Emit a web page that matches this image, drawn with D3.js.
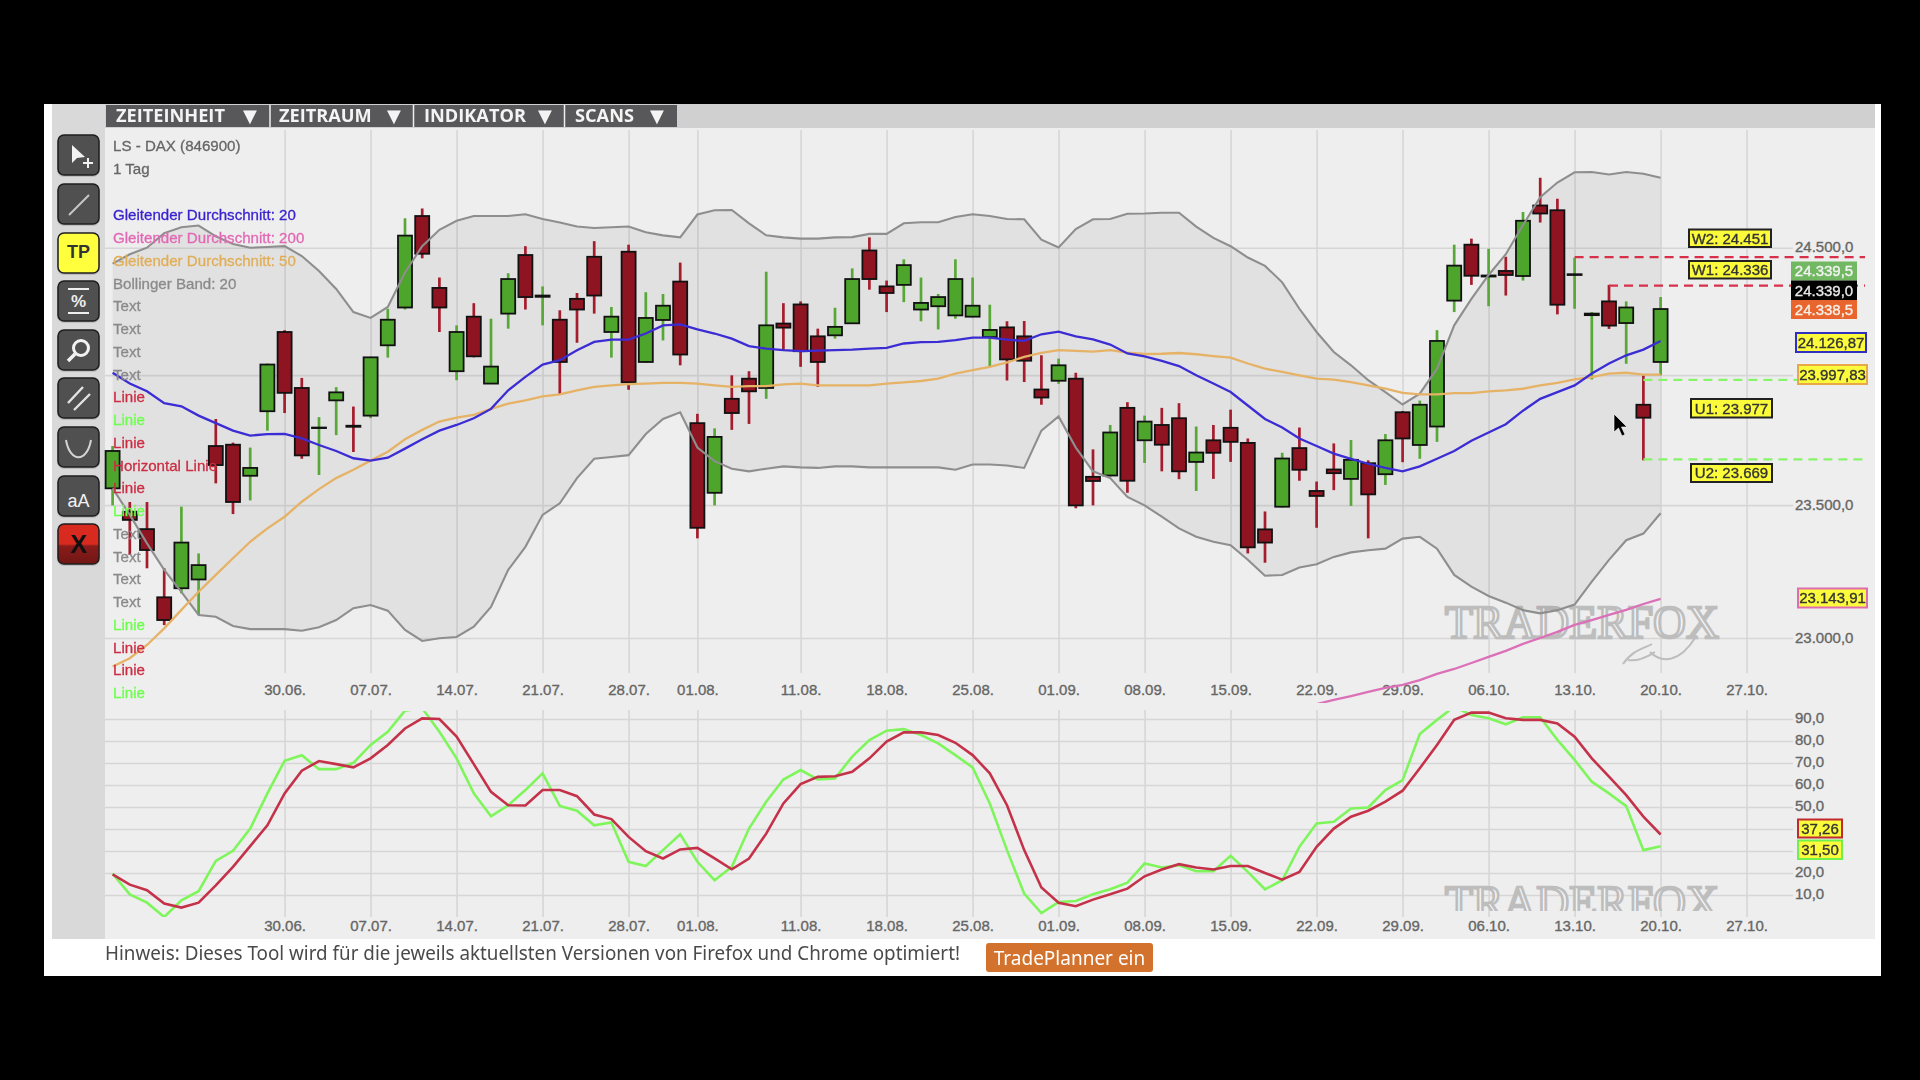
<!DOCTYPE html>
<html lang="de">
<head>
  <meta charset="UTF-8">
  <title>LS - DAX (846900)</title>
  <script src="https://d3js.org/d3.v7.min.js"></script>
  <style>
    html, body { margin: 0; background: #000; overflow: hidden; }
    svg { display: block; filter: blur(0.6px); }
    text { font-family: "Liberation Sans", sans-serif; }
    .axis path.domain { display: none; }
    .axis line { stroke: #d6d6d6; stroke-width: 1.6; }
    .axis text { fill: #666; font-size: 15px; font-family: "Liberation Sans", sans-serif; stroke: #666; stroke-width: 0.35; }
  </style>
</head>
<body>
  <svg width="1920" height="1080"></svg>
  <script>
    // trading days: index 0 = 16.06., index 90 = 20.10.
    const tickDays = [10, 15, 20, 25, 30, 34, 40, 45, 50, 55, 60, 65, 70, 75, 80, 85, 90, 95];
    const tickDates = ["30.06.", "07.07.", "14.07.", "21.07.", "28.07.", "01.08.", "11.08.", "18.08.", "25.08.", "01.09.", "08.09.", "15.09.", "22.09.", "29.09.", "06.10.", "13.10.", "20.10.", "27.10."];

    // the 24.000 and the 40/30 labels are covered by value tags in the picture
    const priceTicks = [24500, 24000, 23500, 23000];
    const priceTickLabels = ["24.500,0", "", "23.500,0", "23.000,0"];
    const stochTicks = [90, 80, 70, 60, 50, 40, 30, 20, 10];
    const stochTickLabels = ["90,0", "80,0", "70,0", "60,0", "50,0", "", "", "20,0", "10,0"];

    const opens = [
      23564,23475,23409,23152,23186,23219,23726,23731,23612,23860,
      24168,23950,23795,23902,23804,23843,24116,24264,24626,24341,
      24015,24228,23967,24240,24471,24306,24216,24298,24464,24168,
      24484,24051,24215,24366,23814,23547,23908,23986,23950,24201,
      24276,24151,24155,24202,24489,24347,24353,24256,24269,24233,
      24228,24148,24186,24151,23944,23978,23986,23608,23613,23873,
      23748,23807,23833,23665,23748,23796,23738,23408,23494,23718,
      23554,23636,23600,23660,23618,23856,23730,23801,24291,24512,
      24386,24408,24388,24668,24649,24392,24234,24288,24203,23885,24051];
    const closes = [
      23707,23444,23330,23067,23358,23273,23653,23512,23642,24041,
      23931,23690,23797,23933,23800,24069,24216,24548,24476,24264,
      24168,24073,24033,24376,24305,24311,24051,24256,24311,24228,
      23972,24223,24271,24080,23414,23761,23853,23937,24194,24185,
      24093,24051,24188,24376,24376,24321,24431,24282,24305,24376,
      24271,24176,24061,24056,23913,24038,23499,23592,23778,23593,
      23820,23731,23629,23701,23700,23742,23340,23358,23678,23635,
      23535,23622,23673,23541,23748,23755,23885,24133,24429,24389,
      24390,24392,24607,24636,24275,24395,24240,24193,24264,23835,24258];
    const highs = [
      23726,23512,23512,23261,23494,23317,23830,23739,23720,24045,
      24175,23989,23837,23953,23878,24071,24259,24617,24656,24382,
      24194,24281,24220,24399,24506,24347,24253,24321,24526,24266,
      24512,24324,24317,24441,23850,23794,23999,24015,24405,24281,
      24288,24181,24263,24418,24541,24370,24454,24382,24317,24454,
      24382,24275,24210,24211,24077,24064,24009,23713,23807,23895,
      23843,23873,23891,23801,23807,23866,23755,23476,23700,23797,
      23590,23736,23749,23671,23772,23861,23901,24175,24512,24536,
      24496,24464,24642,24779,24695,24460,24246,24353,24288,23999,24305];
    const lows = [
      23499,23311,23261,23048,23167,23086,23583,23466,23518,23785,
      23853,23677,23615,23768,23703,23833,24068,24256,24458,24168,
      23980,24069,23965,24181,24256,24194,23924,24126,24240,24068,
      23943,24048,24135,24038,23374,23499,23788,23811,23908,24097,
      24032,23954,24142,24201,24334,24246,24285,24210,24178,24220,
      24225,24032,23979,23973,23885,23966,23488,23499,23609,23547,
      23661,23629,23599,23554,23600,23665,23317,23282,23491,23593,
      23414,23557,23497,23374,23577,23664,23677,23742,24246,24353,
      24269,24311,24370,24600,24237,24259,23983,24180,24044,23671,23999];

    const ma20 = [
      24009,23967,23937,23891,23879,23843,23814,23785,23766,23772,
      23773,23755,23730,23707,23679,23670,23681,23716,23752,23785,
      23807,23833,23869,23941,23993,24041,24058,24097,24129,24138,
      24138,24162,24194,24198,24178,24162,24142,24113,24103,24097,
      24093,24095,24097,24099,24103,24106,24123,24128,24129,24136,
      24146,24146,24138,24133,24159,24169,24151,24139,24119,24084,
      24073,24055,24035,23999,23967,23934,23882,23830,23797,23755,
      23726,23697,23677,23658,23642,23629,23648,23677,23707,23746,
      23778,23810,23862,23908,23934,23960,24006,24045,24077,24099,24133];
    const ma50 = [
      22894,22925,22974,23036,23105,23173,23236,23299,23361,23412,
      23456,23513,23561,23603,23635,23670,23704,23752,23788,23820,
      23835,23846,23869,23889,23902,23917,23925,23941,23954,23960,
      23965,23967,23970,23970,23967,23960,23954,23957,23957,23964,
      23967,23960,23960,23960,23960,23967,23972,23977,23986,24006,
      24019,24032,24049,24071,24086,24097,24094,24091,24097,24087,
      24082,24083,24086,24081,24074,24068,24045,24025,24012,23999,
      23986,23982,23973,23960,23947,23931,23925,23925,23930,23930,
      23937,23941,23947,23960,23970,23983,23992,24006,24009,24002,24002];
    // the 200 line only comes into view at index 70
    const ma200Start = 70;
    const ma200 = [22755,22771,22785,22800,22815,22826,22844,22867,22885,22907,22930,22952,22978,23000,23023,23049,23067,23086,23105,23127,23146];

    const bandUpper = [
      24437,24474,24500,24558,24581,24588,24545,24515,24500,24503,
      24506,24467,24408,24337,24246,24223,24266,24402,24506,24571,
      24607,24626,24626,24626,24633,24614,24600,24584,24578,24581,
      24584,24561,24549,24541,24632,24649,24650,24597,24549,24541,
      24536,24536,24541,24542,24555,24555,24597,24601,24601,24622,
      24633,24626,24614,24613,24532,24501,24574,24613,24614,24635,
      24636,24639,24639,24584,24539,24506,24461,24428,24363,24259,
      24168,24090,24038,23980,23934,23886,23928,24025,24194,24298,
      24392,24474,24590,24701,24760,24801,24802,24792,24802,24795,24779];
    const bandLower = [
      23564,23463,23355,23255,23172,23086,23079,23045,23033,23033,
      23033,23027,23040,23067,23111,23123,23102,23030,22989,22999,
      23004,23042,23116,23255,23342,23463,23507,23603,23677,23684,
      23691,23772,23830,23856,23720,23668,23639,23629,23639,23648,
      23644,23642,23648,23648,23644,23644,23644,23644,23644,23635,
      23655,23655,23651,23642,23785,23840,23720,23629,23603,23531,
      23499,23456,23412,23380,23361,23348,23293,23233,23236,23264,
      23276,23304,23321,23329,23335,23373,23380,23335,23236,23192,
      23157,23132,23104,23092,23104,23125,23211,23293,23367,23392,23469];

    const stochFast = [
      19.7,10.3,6.5,0.0,7.6,11.7,25.5,30.1,40.2,56.2,
      71.0,73.5,67.2,67.2,70.1,78.2,84.2,93.8,94.9,84.2,
      72.1,56.2,45.8,50.8,57.7,65.3,50.5,48.3,41.7,43.0,
      25.1,23.2,30.4,37.6,25.1,16.7,22.8,40.2,52.4,62.5,
      66.8,62.5,63.0,72.9,80.4,84.7,85.4,82.7,78.9,73.6,
      68.0,51.6,30.4,10.6,1.8,6.8,7.3,10.3,12.6,15.6,
      24.3,22.5,23.5,20.8,20.8,27.8,20.5,12.6,16.7,31.9,
      42.5,43.3,49.3,49.8,57.7,62.2,83.2,89.6,95.6,91.8,
      90.3,87.6,90.8,90.8,80.5,71.4,61.5,56.2,50.4,30.4,32.2];
    const stochSlow = [
      19.4,14.7,12.2,6.1,4.3,6.5,14.4,22.8,32.2,41.7,
      56.2,66.5,70.9,69.5,68.0,72.1,78.2,85.7,90.3,90.0,
      82.0,69.5,56.9,50.8,50.7,57.7,57.7,54.9,46.6,44.5,
      36.4,29.9,26.6,30.7,31.4,26.6,21.7,26.6,37.9,51.6,
      60.4,63.7,64.0,66.0,72.1,79.7,83.9,83.9,82.7,79.2,
      73.6,65.3,50.8,30.4,13.4,6.5,4.9,7.9,10.3,12.9,
      18.5,21.6,24.0,22.5,21.6,23.2,23.2,20.0,17.0,20.5,
      31.9,40.2,45.6,48.3,52.4,57.4,67.6,78.2,89.6,92.9,
      92.9,90.3,89.6,89.6,88.0,82.0,72.1,63.8,55.4,45.6,37.5];

    // TradePlanner levels: price of the dashed line, first day of the line
    const levelPrices = [24463, 24350, 23981, 23675];
    const levelStartDays = [85, 87, 89, 89];
    const levelColors = ["#d8304a", "#d8304a", "#86f56a", "#86f56a"];

    const legendLines = [
      ["Gleitender Durchschnitt: 20", "#3a22d0"],
      ["Gleitender Durchschnitt: 200", "#e268b4"],
      ["Gleitender Durchschnitt: 50", "#e0ae58"],
      ["Bollinger Band: 20", "#8a8a8a"],
      ["Text", "#8a8a8a"], ["Text", "#8a8a8a"], ["Text", "#8a8a8a"], ["Text", "#8a8a8a"],
      ["Linie", "#cc2c42"], ["Linie", "#6cff4c"], ["Linie", "#cc2c42"],
      ["Horizontal Linie", "#cc2c42"], ["Linie", "#cc2c42"], ["Linie", "#6cff4c"],
      ["Text", "#8a8a8a"], ["Text", "#8a8a8a"], ["Text", "#8a8a8a"], ["Text", "#8a8a8a"],
      ["Linie", "#6cff4c"], ["Linie", "#cc2c42"], ["Linie", "#cc2c42"], ["Linie", "#6cff4c"]
    ];

    const menuItems = ["ZEITEINHEIT", "ZEITRAUM", "INDIKATOR", "SCANS"];

    const svg = d3.select("svg");

    // page frame
    svg.append("rect").attr("x", 44).attr("y", 104).attr("width", 1837).attr("height", 872).attr("fill", "#fff");
    svg.append("rect").attr("x", 52).attr("y", 104).attr("width", 53).attr("height", 835).attr("fill", "#d9d9d9");
    svg.append("rect").attr("x", 105).attr("y", 104).attr("width", 1770).attr("height", 835).attr("fill", "#eeeeee");

    // scales
    const x = d3.scaleLinear().domain([0, 95]).range([112.6, 1746.6]);
    const y = d3.scaleLog().domain([24500, 23000]).range([247.7, 638]);
    const yStoch = d3.scaleLinear().domain([90, 10]).range([719, 895]);

    const defs = svg.append("defs");
    defs.append("clipPath").attr("id", "clipPrice").append("rect")
      .attr("x", 105).attr("y", 128).attr("width", 1770).attr("height", 575);
    defs.append("clipPath").attr("id", "clipStoch").append("rect")
      .attr("x", 105).attr("y", 711).attr("width", 1770).attr("height", 206);
    defs.append("clipPath").attr("id", "clipMark").append("rect")
      .attr("x", 1400).attr("y", 880).attr("width", 400).attr("height", 31);

    // axes, gridlines are the long ticks
    function dateAxis(top, bottom, labelY) {
      const g = svg.append("g").attr("class", "axis").attr("transform", `translate(0,${bottom})`)
        .call(d3.axisBottom(x).tickValues(tickDays).tickFormat((d, i) => tickDates[i]).tickSize(0));
      g.selectAll(".tick line").attr("y1", top - bottom).attr("y2", 0);
      g.selectAll(".tick text").attr("y", labelY - bottom).attr("dy", "0.35em");
    }
    dateAxis(130, 673, 690);
    dateAxis(710, 917, 926);

    const priceAxis = svg.append("g").attr("class", "axis").attr("transform", "translate(105,0)")
      .call(d3.axisRight(y).tickValues(priceTicks).tickFormat((d, i) => priceTickLabels[i]).tickSize(1688).tickPadding(2));
    const stochAxis = svg.append("g").attr("class", "axis").attr("transform", "translate(105,0)")
      .call(d3.axisRight(yStoch).tickValues(stochTicks).tickFormat((d, i) => stochTickLabels[i]).tickSize(1688).tickPadding(2));
    priceAxis.selectAll(".tick text").attr("dy", "0.27em");
    stochAxis.selectAll(".tick text").attr("dy", "0.25em");

    // watermark
    function watermark(yBase, clip) {
      const w = svg.append("g").attr("clip-path", clip ? "url(#clipMark)" : null);
      w.append("text").attr("x", 1445).attr("y", yBase)
        .attr("textLength", 274).attr("lengthAdjust", "spacingAndGlyphs")
        .attr("font-size", 46)
        .style("font-family", "'Liberation Serif', serif")
        .attr("fill", "#f4f4f4").attr("stroke", "#bdbdbd").attr("stroke-width", 2.6)
        .text("TRADERFOX");
      return w;
    }
    const mark = watermark(638, false);
    mark.append("path")
      .attr("d", "M1623 664 C1632 650 1645 648 1652 644 M1628 660 C1640 662 1650 655 1655 652 M1650 652 C1662 664 1680 662 1695 638")
      .attr("fill", "none").attr("stroke", "#bdbdbd").attr("stroke-width", 2);
    watermark(918, true);

    // bollinger band fill
    const area = d3.area().x((d, i) => x(i)).y0((d, i) => y(bandLower[i])).y1(d => y(d));
    svg.append("path").datum(bandUpper).attr("d", area).attr("fill", "#000").attr("fill-opacity", 0.052);

    // candles
    const candleG = svg.append("g");
    const candle = candleG.selectAll("g").data(d3.range(opens.length)).join("g");
    candle.append("line")
      .attr("x1", i => x(i)).attr("x2", i => x(i))
      .attr("y1", i => y(highs[i])).attr("y2", i => y(lows[i]))
      .attr("stroke", i => closes[i] >= opens[i] ? "#58a838" : "#a51c2c")
      .attr("stroke-width", 2.7);
    candle.append("rect")
      .attr("x", i => x(i) - 7)
      .attr("width", 14)
      .attr("y", i => y(Math.max(opens[i], closes[i])))
      .attr("height", i => Math.abs(y(opens[i]) - y(closes[i])))
      .attr("fill", i => closes[i] >= opens[i] ? "#4ea52b" : "#8d1420")
      .attr("stroke", "#111").attr("stroke-width", 1.8);

    // lines on top of the candles
    const priceLine = d3.line().x((d, i) => x(i)).y(d => y(d));
    const overlay = svg.append("g").attr("fill", "none").attr("clip-path", "url(#clipPrice)");
    overlay.append("path").attr("d", priceLine(bandUpper)).attr("stroke", "#8e8e8e").attr("stroke-width", 2.1);
    overlay.append("path").attr("d", priceLine(bandLower)).attr("stroke", "#8e8e8e").attr("stroke-width", 2.1);
    overlay.append("path").attr("d", priceLine(ma50)).attr("stroke", "#e6b266").attr("stroke-width", 2.3);
    overlay.append("path").attr("d", priceLine(ma20)).attr("stroke", "#3c2cd4").attr("stroke-width", 2.3);
    overlay.append("path")
      .attr("d", d3.line().x((d, i) => x(i + ma200Start)).y(d => y(d))(ma200))
      .attr("stroke", "#dc70b8").attr("stroke-width", 2.3);

    // stochastic panel
    const stochLine = d3.line().x((d, i) => x(i)).y(d => yStoch(d));
    const stoch = svg.append("g").attr("fill", "none").attr("clip-path", "url(#clipStoch)");
    stoch.append("path").attr("d", stochLine(stochFast)).attr("stroke", "#7ff55c").attr("stroke-width", 2.6);
    stoch.append("path").attr("d", stochLine(stochSlow)).attr("stroke", "#c4324a").attr("stroke-width", 2.6);

    // dashed levels
    svg.append("g").selectAll("line").data(levelPrices).join("line")
      .attr("x1", (d, i) => x(levelStartDays[i])).attr("x2", 1865)
      .attr("y1", d => y(d)).attr("y2", d => y(d))
      .attr("stroke", (d, i) => levelColors[i])
      .attr("stroke-width", 2.3).attr("stroke-dasharray", "9 6");

    // legend, sits over everything in the chart
    svg.append("text").attr("x", 113).attr("y", 146).attr("dy", "0.35em").attr("font-size", 15.1).attr("fill", "#666").attr("stroke", "#666").attr("stroke-width", 0.3).text("LS - DAX (846900)");
    svg.append("text").attr("x", 113).attr("y", 169).attr("dy", "0.35em").attr("font-size", 15.1).attr("fill", "#666").attr("stroke", "#666").attr("stroke-width", 0.3).text("1 Tag");
    svg.append("g").selectAll("text").data(legendLines).join("text")
      .attr("x", 113)
      .attr("y", (d, i) => 215 + i * 22.75).attr("dy", "0.35em")
      .attr("font-size", 15.1)
      .attr("fill", d => d[1])
      .attr("stroke", d => d[1]).attr("stroke-width", 0.3)
      .text(d => d[0]);

    // value tags at the right edge
    function tag(x0, y0, w, h, txt, fill, stroke, color, size) {
      svg.append("rect").attr("x", x0).attr("y", y0 - 1).attr("width", w).attr("height", h)
        .attr("fill", fill).attr("stroke", stroke).attr("stroke-width", stroke === "none" ? 0 : 2);
      svg.append("text").attr("x", x0 + w / 2).attr("y", y0 - 1 + h / 2).attr("dy", "0.36em")
        .attr("text-anchor", "middle").attr("font-size", size || 15).attr("fill", color)
        .attr("stroke", color).attr("stroke-width", 0.35).text(txt);
    }
    tag(1689, 230.5, 82, 17.5, "W2: 24.451", "#fbfb3c", "#222", "#333");
    tag(1689, 262, 82, 17.5, "W1: 24.336", "#fbfb3c", "#222", "#333");
    tag(1691, 400, 81, 18.5, "U1: 23.977", "#fbfb3c", "#222", "#333");
    tag(1691, 465, 81, 18, "U2: 23.669", "#fbfb3c", "#222", "#333");
    tag(1791, 262.5, 66, 19, "24.339,5", "#72b862", "none", "#f4f4f4");
    tag(1791, 281.5, 66, 19.5, "24.339,0", "#000", "none", "#e8e8e8");
    tag(1791, 301, 66, 19, "24.338,5", "#e9652e", "none", "#f6f0e8");
    tag(1796, 334, 70, 19, "24.126,87", "#fbfb3c", "#3030c0", "#333");
    tag(1798, 366, 69, 19, "23.997,83", "#fbfb3c", "#e8a848", "#333");
    tag(1798, 589.5, 69, 19, "23.143,91", "#fbfb3c", "#e06cb0", "#333");
    tag(1798, 820.5, 44, 18, "37,26", "#fbfb3c", "#c02a30", "#333");
    tag(1798, 841.5, 44, 18.5, "31,50", "#fbfb3c", "#70f04c", "#333");

    // menu bar
    svg.append("rect").attr("x", 105).attr("y", 104).attr("width", 1770).attr("height", 24).attr("fill", "#d0d0d0");
    svg.append("rect").attr("x", 106).attr("y", 105).attr("width", 571).attr("height", 22).attr("fill", "#58585a");
    const menuLabelX = [116, 279, 424, 575];
    const menuArrowX = [250, 394, 545, 657];
    const menuSepX = [270, 413.5, 564.5];
    const menu = svg.append("g");
    menu.selectAll("line").data(menuSepX).join("line")
      .attr("x1", d => d).attr("x2", d => d).attr("y1", 105).attr("y2", 127)
      .attr("stroke", "#eee").attr("stroke-width", 1.5);
    menu.selectAll("text.item").data(menuItems).join("text").attr("class", "item")
      .attr("x", (d, i) => menuLabelX[i]).attr("y", 115.5).attr("dy", "0.36em")
      .style("font-family", "'Open Sans', sans-serif").attr("font-weight", 700)
      .attr("font-size", 18.2).attr("fill", "#f4f4f4").text(d => d);
    menu.selectAll("text.arrow").data(menuArrowX).join("text").attr("class", "arrow")
      .attr("x", d => d).attr("y", 115.5).attr("dy", "0.36em").attr("text-anchor", "middle")
      .style("font-family", "'DejaVu Sans', sans-serif")
      .attr("font-size", 18).attr("fill", "#f4f4f4").text("▼");

    // tool buttons
    const buttonY = [135, 184, 233, 281, 330, 378, 427, 476, 524];
    const grad = defs.append("linearGradient").attr("id", "xBtn").attr("x1", 0).attr("x2", 0).attr("y1", 0).attr("y2", 1);
    grad.append("stop").attr("offset", "50%").attr("stop-color", "#d92a20");
    grad.append("stop").attr("offset", "55%").attr("stop-color", "#8a1c1a");
    grad.append("stop").attr("offset", "100%").attr("stop-color", "#701614");
    const buttons = svg.append("g");
    buttonY.forEach((by, i) => {
      const fill = i === 2 ? "#ffff3e" : i === 8 ? "url(#xBtn)" : "#505050";
      const b = buttons.append("g").attr("transform", `translate(58,${by})`);
      b.append("rect").attr("x", -1).attr("y", 1).attr("width", 43).attr("height", 41).attr("rx", 7)
        .attr("fill", "#bdbdbd");
      b.append("rect").attr("width", 41).attr("height", 40).attr("rx", 6)
        .attr("fill", fill).attr("stroke", "#1e1e1e").attr("stroke-width", 1.5);
      if (i === 0) {
        b.append("path").attr("d", "M14 10 L14 28 L19 23 L27 22 Z").attr("fill", "#f2f2f2");
        b.append("path").attr("d", "M30 23 V33 M25 28 H35").attr("stroke", "#f2f2f2").attr("stroke-width", 2);
      } else if (i === 1) {
        b.append("line").attr("x1", 11).attr("y1", 31).attr("x2", 31).attr("y2", 11).attr("stroke", "#c8c8c8").attr("stroke-width", 2);
      } else if (i === 2) {
        b.append("text").attr("x", 20.5).attr("y", 19).attr("dy", "0.36em").attr("text-anchor", "middle")
          .attr("font-size", 18).attr("font-weight", 700).attr("fill", "#333").text("TP");
      } else if (i === 3) {
        b.append("path").attr("d", "M10 8 H31 M10 32 H31").attr("stroke", "#eee").attr("stroke-width", 2);
        b.append("text").attr("x", 20.5).attr("y", 20).attr("dy", "0.36em").attr("text-anchor", "middle")
          .attr("font-size", 17).attr("font-weight", 700).attr("fill", "#eee").text("%");
      } else if (i === 4) {
        b.append("circle").attr("cx", 23).attr("cy", 18).attr("r", 7.5).attr("fill", "none").attr("stroke", "#f2f2f2").attr("stroke-width", 3);
        b.append("line").attr("x1", 17).attr("y1", 24).attr("x2", 10).attr("y2", 31).attr("stroke", "#f2f2f2").attr("stroke-width", 3.5);
      } else if (i === 5) {
        b.append("path").attr("d", "M10 25 L25 9 M16 32 L32 16").attr("stroke", "#e4e4e4").attr("stroke-width", 2.4);
      } else if (i === 6) {
        b.append("path").attr("d", "M8 13 C12 36 29 36 33 13").attr("fill", "none").attr("stroke", "#d4d4d4").attr("stroke-width", 2);
      } else if (i === 7) {
        b.append("text").attr("x", 20.5).attr("y", 25).attr("dy", "0.36em").attr("text-anchor", "middle")
          .attr("font-size", 18).attr("fill", "#f2f2f2").text("aA");
      } else if (i === 8) {
        b.append("text").attr("x", 20.5).attr("y", 20).attr("dy", "0.36em").attr("text-anchor", "middle")
          .attr("font-size", 25).attr("font-weight", 700).attr("fill", "#111").text("X");
      }
    });

    // mouse pointer
    svg.append("path").attr("d", "M1614 414 V432 L1618.5 428 L1622 436 L1625 434.5 L1621.5 427 L1627 427 Z")
      .attr("fill", "#000").attr("stroke", "#fff").attr("stroke-width", 0.6);

    // footer
    svg.append("text").attr("x", 105).attr("y", 953).attr("dy", "0.36em")
      .style("font-family", "'Noto Sans', sans-serif").attr("font-size", 19)
      .attr("textLength", 855).attr("lengthAdjust", "spacingAndGlyphs")
      .attr("fill", "#4a4a4a")
      .text("Hinweis: Dieses Tool wird für die jeweils aktuellsten Versionen von Firefox und Chrome optimiert!");
    svg.append("rect").attr("x", 986).attr("y", 943).attr("width", 167).attr("height", 29).attr("rx", 3).attr("fill", "#d2722c");
    svg.append("text").attr("x", 1069.5).attr("y", 958).attr("dy", "0.36em").attr("text-anchor", "middle")
      .style("font-family", "'Noto Sans', sans-serif").attr("font-size", 19).attr("fill", "#fff")
      .text("TradePlanner ein");
  </script>
</body>
</html>
